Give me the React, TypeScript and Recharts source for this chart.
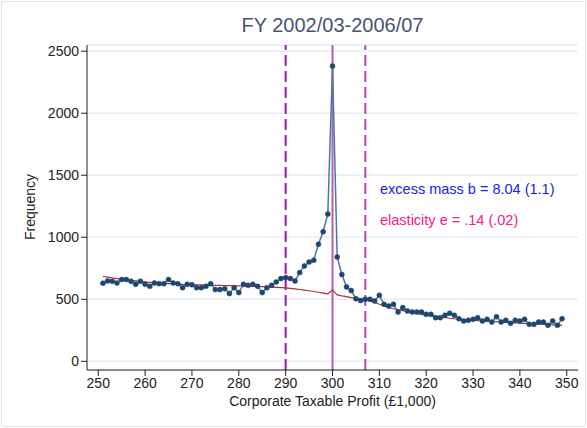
import { LineChart, Line, XAxis, YAxis, CartesianGrid, ReferenceLine } from "recharts";

const bins = [
  251, 252, 253, 254, 255, 256, 257, 258, 259, 260,
  261, 262, 263, 264, 265, 266, 267, 268, 269, 270,
  271, 272, 273, 274, 275, 276, 277, 278, 279, 280,
  281, 282, 283, 284, 285, 286, 287, 288, 289, 290,
  291, 292, 293, 294, 295, 296, 297, 298, 299, 300,
  301, 302, 303, 304, 305, 306, 307, 308, 309, 310,
  311, 312, 313, 314, 315, 316, 317, 318, 319, 320,
  321, 322, 323, 324, 325, 326, 327, 328, 329, 330,
  331, 332, 333, 334, 335, 336, 337, 338, 339, 340,
  341, 342, 343, 344, 345, 346, 347, 348, 349,
];

const frequency = [
  630, 648, 645, 632, 659, 659, 645, 621, 645, 621,
  605, 632, 626, 626, 659, 632, 626, 594, 621, 618,
  594, 594, 605, 626, 578, 578, 586, 546, 594, 554,
  621, 613, 621, 605, 554, 594, 613, 640, 667, 675,
  667, 648, 715, 769, 801, 815, 944, 1045, 1187, 2380,
  840, 700, 600, 570, 505, 490, 500, 500, 487, 532,
  460, 446, 460, 398, 433, 406, 398, 398, 398, 379,
  379, 352, 352, 371, 387, 371, 344, 325, 331, 339,
  352, 325, 339, 317, 360, 317, 331, 306, 331, 325,
  339, 298, 298, 317, 317, 290, 325, 290, 344,
];

const counterfactual = [
  684, 678, 672, 667, 662, 657, 652, 648, 644, 640,
  637, 634, 631, 628, 626, 624, 622, 620, 619, 618,
  617, 616, 615, 614, 613, 612, 611, 610, 609, 608,
  607, 606, 605, 604, 602, 600, 598, 596, 594, 592,
  588, 584, 579, 574, 569, 563, 557, 550, 543, 577,
  536, 528, 521, 514, 507, 502, 497, 486, 474, 460,
  446, 432, 424, 416, 408, 400, 393, 386, 379, 373,
  367, 362, 357, 352, 347, 343, 340, 337, 334, 331,
  328, 326, 324, 322, 320, 317, 314, 312, 310, 308,
  306, 304, 302, 300, 298, 296, 294, 292, 290,
];

const xTicks = [250, 260, 270, 280, 290, 300, 310, 320, 330, 340, 350];
const yTicks = [0, 500, 1000, 1500, 2000, 2500];
const notchLower = 290;
const notch = 300;
const notchUpper = 307;

const data = bins.map((b, i) => ({ bin: b, freq: frequency[i], cf: counterfactual[i] }));

const font = "'Liberation Sans', Arial, sans-serif";
const tickStyle = { fontSize: 14, fill: "#222", fontFamily: font };

export default function App() {
  return (
    <div
      style={{
        position: "absolute",
        left: 0,
        top: 0,
        width: 587,
        height: 428,
        background: "#fff",
        fontFamily: font,
      }}
    >
      <div style={{ position: "absolute", left: 1, top: 1, width: 583, height: 424, border: "1px solid #dde6ec" }} />
      <LineChart width={587} height={428} data={data} margin={{ top: 45, right: 9, left: 0, bottom: 0 }}>
        <CartesianGrid vertical={false} stroke="#e8eef2" strokeWidth={1.5} />
        <XAxis
          dataKey="bin"
          type="number"
          domain={[247.6, 352.4]}
          ticks={xTicks}
          height={58}
          tick={tickStyle}
          tickSize={6}
          tickMargin={2}
          stroke="#222"
          interval={0}
        />
        <YAxis
          type="number"
          domain={[-70, 2550]}
          ticks={yTicks}
          width={87}
          tick={tickStyle}
          tickSize={6}
          tickMargin={2}
          stroke="#222"
          interval={0}
        />
        <ReferenceLine x={notchLower} stroke="#9a1aa6" strokeWidth={2} strokeDasharray="11 5" />
        <ReferenceLine x={notch} stroke="#b35fbd" strokeWidth={2} />
        <ReferenceLine x={notchUpper} stroke="#b24ab8" strokeWidth={2} strokeDasharray="11 5" />
        <Line
          type="linear"
          dataKey="cf"
          stroke="#a93434"
          strokeWidth={1.2}
          dot={false}
          isAnimationActive={false}
        />
        <Line
          type="linear"
          dataKey="freq"
          stroke="#4d77a1"
          strokeWidth={1.5}
          dot={{ r: 2.5, fill: "#1d4670", stroke: "#1d4670", strokeWidth: 0.5 }}
          isAnimationActive={false}
        />
      </LineChart>
      <div
        style={{
          position: "absolute",
          left: 87,
          width: 491,
          top: 14,
          textAlign: "center",
          fontSize: 20,
          color: "#4a5272",
        }}
      >
        FY 2002/03-2006/07
      </div>
      <div
        style={{
          position: "absolute",
          left: 87,
          width: 491,
          top: 393,
          textAlign: "center",
          fontSize: 14,
          color: "#222",
        }}
      >
        Corporate Taxable Profit (£1,000)
      </div>
      <div
        style={{
          position: "absolute",
          left: 30,
          top: 207,
          transform: "translate(-50%, -50%) rotate(-90deg)",
          fontSize: 14,
          color: "#222",
          whiteSpace: "nowrap",
        }}
      >
        Frequency
      </div>
      <div style={{ position: "absolute", left: 380, top: 181, fontSize: 14.5, color: "#2020e8", whiteSpace: "nowrap" }}>
        excess mass b = 8.04 (1.1)
      </div>
      <div style={{ position: "absolute", left: 380, top: 212, fontSize: 14.5, color: "#f0208a", whiteSpace: "nowrap" }}>
        elasticity e = .14 (.02)
      </div>
    </div>
  );
}
